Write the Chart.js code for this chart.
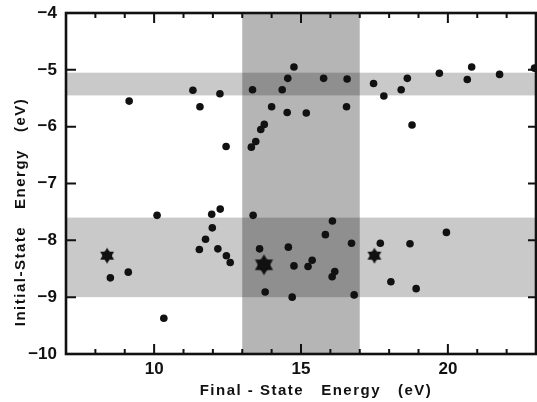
<!DOCTYPE html>
<html>
<head>
<meta charset="utf-8">
<script src="https://cdn.jsdelivr.net/npm/chart.js@4.4.1/dist/chart.umd.min.js"></script>
<style>
  html, body { margin: 0; padding: 0; background: #fff; }
  canvas { display: block; }
</style>
</head>
<body>
<canvas id="chart" width="537" height="402"></canvas>
<script>
// Measured states: final-state energy (eV) vs initial-state energy (eV)
const finalEnergy = [
  9.15, 11.32, 11.56, 12.24, 12.45, 13.35, 13.31, 13.46, 13.63, 13.75,
  14.0, 14.36, 14.55, 14.76, 14.53, 15.18, 15.77, 16.57, 16.55, 17.47,
  17.82, 18.41, 18.62, 18.78, 19.71, 20.66, 20.81, 21.76, 22.95,
  8.51, 9.12, 10.1, 10.33, 11.54, 11.75, 11.96, 11.98, 12.17, 12.25,
  12.46, 12.59, 13.37, 13.59, 13.78, 14.57, 14.76, 14.7, 15.24, 15.38,
  15.83, 16.07, 16.06, 16.15, 16.72, 16.81, 17.7, 18.06, 18.71, 18.92, 19.95
];
const initialEnergy = [
  -5.55, -5.36, -5.65, -5.42, -6.35, -5.35, -6.36, -6.26, -6.05, -5.96,
  -5.65, -5.35, -5.15, -4.95, -5.75, -5.76, -5.15, -5.16, -5.65, -5.24,
  -5.46, -5.35, -5.15, -5.97, -5.06, -5.17, -4.95, -5.08, -4.97,
  -8.66, -8.56, -7.56, -9.37, -8.16, -7.98, -7.54, -7.78, -8.15, -7.45,
  -8.27, -8.39, -7.56, -8.15, -8.91, -8.12, -8.45, -9.0, -8.46, -8.35,
  -7.9, -7.66, -8.64, -8.55, -8.05, -8.96, -8.05, -8.73, -8.06, -8.85, -7.86
];

// Star-marked states
const starFinal = [8.4, 13.74, 17.5];
const starInitial = [-8.27, -8.43, -8.27];

// Shaded energy windows
const finalBand = [13, 17];
const initialBands = [[-5.05, -5.45], [-7.6, -9.0]];

// Axis labels
const xTitle = 'Final - State   Energy   (eV)';
const yTitle = 'Initial-State   Energy   (eV)';

const FONT = '"Liberation Sans", Arial, sans-serif';
const starRadii = [8, 10.5, 8];

// filled six-pointed star used as a point image
function makeStar(r) {
  const c = document.createElement('canvas');
  const s = Math.ceil(r * 2 + 2);
  c.width = s; c.height = s;
  const g = c.getContext('2d');
  g.fillStyle = '#111';
  g.translate(s / 2, s / 2);
  for (const off of [-Math.PI / 2, Math.PI / 2]) {
    g.beginPath();
    for (let k = 0; k < 3; k++) {
      const a = off + k * 2 * Math.PI / 3;
      g.lineTo(r * Math.cos(a), r * Math.sin(a));
    }
    g.closePath();
    g.fill();
  }
  g.beginPath();
  g.arc(0, 0, r * 0.62, 0, Math.PI * 2);
  g.fill();
  return c;
}
const starImages = starRadii.map(makeStar);

const minus = v => (v < 0 ? '\u2212' + Math.abs(v) : String(v));

// bands, frame, inward ticks and axis titles
const framePlugin = {
  id: 'framePlugin',
  beforeDatasetsDraw(chart) {
    const { ctx, chartArea: a, scales: { x, y } } = chart;
    ctx.save();
    ctx.fillStyle = 'rgba(0,0,0,0.21)';
    initialBands.forEach(([y0, y1]) => {
      const p0 = y.getPixelForValue(y0);
      const p1 = y.getPixelForValue(y1);
      ctx.fillRect(a.left, p0, a.width, p1 - p0);
    });
    ctx.fillStyle = 'rgba(0,0,0,0.29)';
    const v0 = x.getPixelForValue(finalBand[0]);
    const v1 = x.getPixelForValue(finalBand[1]);
    ctx.fillRect(v0, a.top, v1 - v0, a.height);
    ctx.restore();
  },
  afterDatasetsDraw(chart) {
    const { ctx, chartArea: a, scales: { x, y } } = chart;
    ctx.save();
    ctx.strokeStyle = '#111';
    ctx.lineWidth = 2;
    ctx.beginPath();
    x.ticks.forEach(t => {
      const px = x.getPixelForValue(t.value);
      const len = t.value % 5 === 0 ? 10 : 5;
      ctx.moveTo(px, a.bottom); ctx.lineTo(px, a.bottom - len);
      ctx.moveTo(px, a.top); ctx.lineTo(px, a.top + len);
    });
    y.ticks.forEach(t => {
      const py = y.getPixelForValue(t.value);
      ctx.moveTo(a.left, py); ctx.lineTo(a.left + 10, py);
      ctx.moveTo(a.right, py); ctx.lineTo(a.right - 8, py);
    });
    ctx.stroke();
    ctx.lineWidth = 2.6;
    ctx.strokeRect(a.left, a.top, a.width, a.height);
    ctx.restore();
  },
  afterDraw(chart) {
    const { ctx } = chart;
    ctx.save();
    ctx.fillStyle = '#111';
    ctx.font = 'bold 15px ' + FONT;
    ctx.letterSpacing = '1.5px';
    ctx.textAlign = 'center';
    ctx.textBaseline = 'alphabetic';
    ctx.fillText(xTitle, 316, 395);
    ctx.translate(25, 212);
    ctx.rotate(-Math.PI / 2);
    ctx.fillText(yTitle, 0, 0);
    ctx.restore();
  }
};

new Chart(document.getElementById('chart'), {
  type: 'scatter',
  data: {
    datasets: [
      {
        data: finalEnergy.map((v, i) => ({ x: v, y: initialEnergy[i] })),
        backgroundColor: '#111',
        borderWidth: 0,
        pointRadius: 3.8,
        clip: 0
      },
      {
        data: starFinal.map((v, i) => ({ x: v, y: starInitial[i] })),
        pointStyle: ctx => starImages[ctx.dataIndex],
        pointRadius: 10,
        clip: 0
      }
    ]
  },
  options: {
    responsive: false,
    animation: false,
    layout: { autoPadding: false, padding: { top: 13, right: 1, left: 0, bottom: 0 } },
    plugins: { legend: { display: false }, tooltip: { enabled: false } },
    scales: {
      x: {
        min: 7,
        max: 23,
        border: { display: false },
        grid: { display: false, drawTicks: false },
        afterFit: s => { s.height = 48; s.paddingLeft = 0; s.paddingRight = 0; },
        ticks: {
          stepSize: 1,
          autoSkip: false,
          maxRotation: 0,
          padding: 5,
          color: '#111',
          font: { family: FONT, size: 17, weight: 'bold' },
          callback: v => (v % 5 === 0 ? String(v) : '')
        }
      },
      y: {
        min: -10,
        max: -4,
        border: { display: false },
        grid: { display: false, drawTicks: false },
        afterFit: s => { s.width = 66; s.paddingTop = 0; s.paddingBottom = 0; },
        ticks: {
          stepSize: 1,
          padding: 9,
          color: '#111',
          font: { family: FONT, size: 17, weight: 'bold' },
          callback: minus
        }
      }
    }
  },
  plugins: [framePlugin]
});
</script>
</body>
</html>
